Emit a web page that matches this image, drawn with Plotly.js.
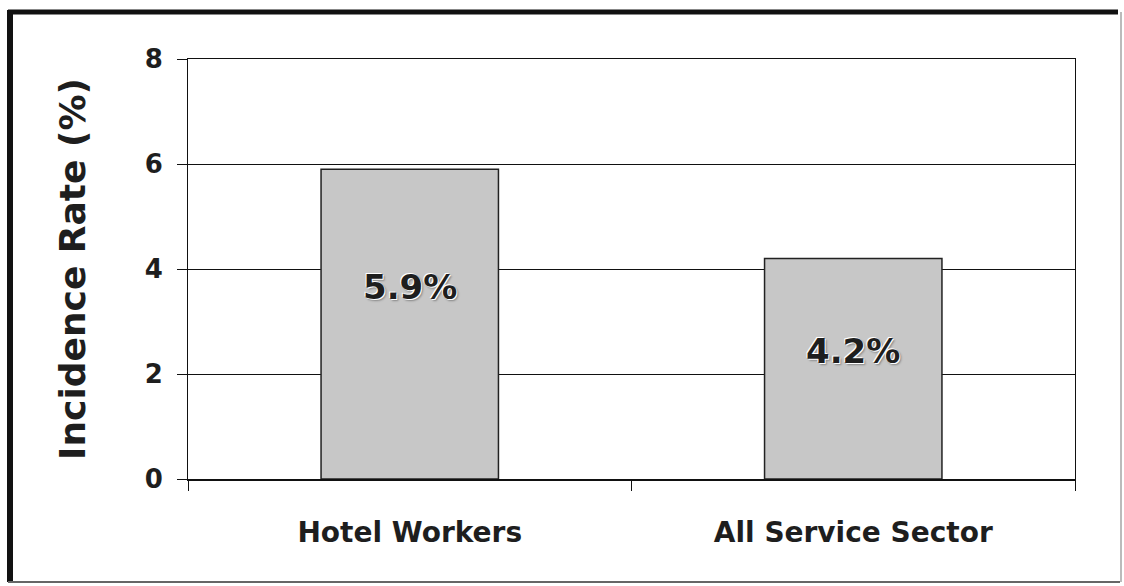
<!DOCTYPE html>
<html>
<head>
<meta charset="utf-8">
<script src="https://cdn.plot.ly/plotly-3.0.1.min.js"></script>
<style>
html,body{margin:0;padding:0;background:#fff;}
#chart{width:1124px;height:586px;}
</style>
</head>
<body>
<div id="chart"></div>
<script>
const categories = ["Hotel Workers", "All Service Sector"];
const rates = [5.9, 4.2];
const labelFrac = [0.62, 0.58];
const yTicks = [0, 2, 4, 6, 8];

const FONT = "DejaVu Sans, Liberation Sans, sans-serif";
const INK = "#1e1e1e";

const L = 188, R = 49, T = 59, B = 107, W = 1124, H = 586;
const pw = W - L - R, ph = H - T - B;
const px = v => (v - L) / pw;
const py = v => (H - B - v) / ph;

const trace = {
  type: "bar",
  x: categories,
  y: rates,
  marker: {color: "#c7c7c7", line: {color: "#222", width: 1.5}},
  hoverinfo: "none"
};

const annotations = categories.map((c, i) => ({
  x: c, y: rates[i] * labelFrac[i], xref: "x", yref: "y",
  text: rates[i].toFixed(1) + "%", showarrow: false,
  font: {family: FONT, size: 34, color: INK, weight: 700,
         shadow: "1px 1px 0 #fff, -1px -1px 0 #fff, 2px 2px 2px #888"}
}));

const line = (x0, y0, x1, y1, color, width) => ({
  type: "line", xref: "paper", yref: "paper",
  x0: px(x0), y0: py(y0), x1: px(x1), y1: py(y1),
  line: {color: color, width: width}, layer: "above"
});

const layout = {
  width: W, height: H,
  margin: {l: L, r: R, t: T, b: B, pad: 0},
  paper_bgcolor: "#fff", plot_bgcolor: "#fff",
  showlegend: false,
  bargap: 0.6,
  font: {family: FONT, color: INK},
  xaxis: {
    type: "category",
    showline: true, mirror: true, linecolor: "#111", linewidth: 1.5,
    ticks: "outside", tickson: "boundaries", ticklen: 10, tickcolor: "#111", tickwidth: 1,
    ticklabelstandoff: 28,
    tickfont: {family: FONT, size: 28, color: INK, weight: 700},
    showgrid: false
  },
  yaxis: {
    range: [0, 8], tickvals: yTicks, ticktext: yTicks.map(String),
    showline: true, mirror: true, linecolor: "#111", linewidth: 1,
    ticks: "outside", ticklen: 10, tickcolor: "#111",
    ticklabelstandoff: 9,
    showgrid: true, gridcolor: "#111", gridwidth: 1, zeroline: false,
    tickfont: {family: FONT, size: 26, color: INK, weight: 700},
    title: {text: "Incidence Rate (%)", standoff: 48,
            font: {family: FONT, size: 36, color: INK, weight: 700}}
  },
  annotations: annotations,
  shapes: [
    line(8, 12, 1118, 12, "#111", 5),
    line(10, 10, 10, 582, "#111", 6),
    line(8, 582, 1120, 582, "#666", 2),
    line(1121, 12, 1121, 582, "#bbb", 2)
  ]
};

Plotly.newPlot("chart", [trace], layout, {displayModeBar: false, staticPlot: true});
</script>
</body>
</html>
